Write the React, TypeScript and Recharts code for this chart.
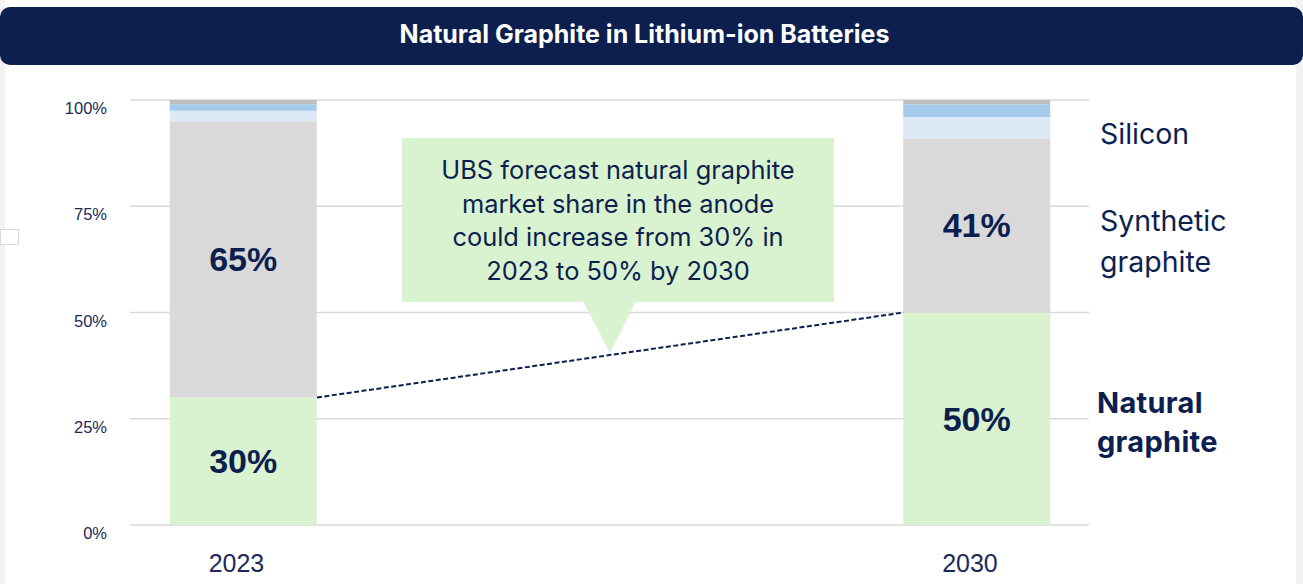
import React from 'react'
import { BarChart, Bar, XAxis, YAxis, CartesianGrid, LabelList, ReferenceLine } from 'recharts'

// values (percent of anode material)
const years = [2023, 2030]
const natural = [30, 50]
const synthetic = [65, 41]
const siliconLight = [2.5, 5]
const siliconBlue = [1.5, 3]
const other = [1, 1]
const yTicks = [0, 25, 50, 75, 100]

const NAVY = '#0C1F4F'
const TEXT = '#1B2A5A'
const W = 1303
const H = 584
const MARGIN = { top: 100, right: 214, bottom: 0, left: 0 }
const Y_AXIS_W = 130
const BAR_SIZE = 147
const X_DOMAIN: [number, number] = [2021.917, 2031.069]

const data = years.map((year, i) => ({
	year,
	natural: natural[i],
	synthetic: synthetic[i],
	siliconLight: siliconLight[i],
	siliconBlue: siliconBlue[i],
	other: other[i],
}))

// half a bar, in axis units, so the dashed line meets the bar corners
const plotW = W - MARGIN.left - MARGIN.right - Y_AXIS_W
const halfBar = (BAR_SIZE / 2) * (X_DOMAIN[1] - X_DOMAIN[0]) / plotW

const YTick = ({ x, y, payload }: any) => (
	<text x={x} y={y} dy={14} textAnchor="end" fill={TEXT} fontSize={16.5} fontFamily="'Liberation Sans', Arial, sans-serif">
		{payload.value}%
	</text>
)

const XTick = ({ x, y, payload }: any) => (
	<text x={x} y={y} dx={-7} dy={47} textAnchor="middle" fill={TEXT} fontSize={25} fontFamily="'Liberation Sans', Arial, sans-serif">
		{payload.value}
	</text>
)

const labelProps = {
	position: 'center' as const,
	fill: NAVY,
	fontSize: 34,
	fontWeight: 700,
	fontFamily: "'Liberation Sans', Arial, sans-serif",
	formatter: (v: any) => `${v}%`,
}

const sideText = { position: 'absolute' as const, fontFamily: 'Inter, sans-serif', color: NAVY }

export default function App() {
	return (
		<div style={{ position: 'absolute', left: 0, top: 0, width: W, height: H, background: '#fff', overflow: 'hidden' }}>
			{/* side strips and the little stray box */}
			<div style={{ position: 'absolute', left: 0, top: 0, width: 5, height: H, background: '#F2F2F2' }} />
			<div style={{ position: 'absolute', left: 1296, top: 0, width: 7, height: H, background: '#F2F2F2' }} />
			<div style={{ position: 'absolute', left: 0, top: 229, width: 17, height: 14, border: '1px solid #D9D9D9', background: '#fff' }} />

			{/* header banner */}
			<div style={{
				position: 'absolute', left: 0, top: 7, width: W, height: 58, background: NAVY, borderRadius: 10,
				color: '#fff', fontFamily: 'Inter, sans-serif', fontWeight: 700, fontSize: 25,
				display: 'flex', alignItems: 'center', justifyContent: 'center',
				paddingRight: 14, paddingBottom: 4, boxSizing: 'border-box',
			}}>
				Natural Graphite in Lithium-ion Batteries
			</div>

			<div style={{ position: 'absolute', left: 0, top: 0 }}>
				<BarChart width={W} height={H} data={data} margin={MARGIN}>
					<CartesianGrid vertical={false} stroke="#D9D9D9" strokeWidth={1.5} />
					<XAxis
						type="number"
						dataKey="year"
						domain={X_DOMAIN}
						ticks={years}
						axisLine={false}
						tickLine={false}
						tickSize={0}
						tickMargin={0}
						height={59}
						tick={<XTick />}
						allowDataOverflow
					/>
					<YAxis
						type="number"
						domain={[0, 100]}
						ticks={yTicks}
						width={Y_AXIS_W}
						axisLine={false}
						tickLine={false}
						tickSize={0}
						tickMargin={23}
						tick={<YTick />}
					/>
					<Bar dataKey="natural" stackId="a" fill="#D9F2D0" barSize={BAR_SIZE} isAnimationActive={false}>
						<LabelList dataKey="natural" {...labelProps} />
					</Bar>
					<Bar dataKey="synthetic" stackId="a" fill="#D9D9D9" barSize={BAR_SIZE} isAnimationActive={false}>
						<LabelList dataKey="synthetic" {...labelProps} />
					</Bar>
					<Bar dataKey="siliconLight" stackId="a" fill="#DCEAF7" barSize={BAR_SIZE} isAnimationActive={false} />
					<Bar dataKey="siliconBlue" stackId="a" fill="#A6CAEC" barSize={BAR_SIZE} isAnimationActive={false} />
					<Bar dataKey="other" stackId="a" fill="#BFBFBF" barSize={BAR_SIZE} isAnimationActive={false} />
					<ReferenceLine
						segment={[
							{ x: years[0] + halfBar, y: natural[0] },
							{ x: years[1] - halfBar, y: natural[1] },
						]}
						stroke={NAVY}
						strokeWidth={2}
						strokeDasharray="5 2.5"
					/>
				</BarChart>
			</div>

			{/* callout */}
			<svg style={{ position: 'absolute', left: 0, top: 0 }} width={W} height={H} pointerEvents="none">
				<rect x={402} y={138} width={432} height={164} fill="#D9F2D0" />
				<polygon points="583,301 636,301 610,353" fill="#D9F2D0" />
			</svg>
			<div style={{
				position: 'absolute', left: 402, top: 153, width: 432, textAlign: 'center',
				fontFamily: 'Inter, sans-serif', fontSize: 25.4, lineHeight: '33.7px', color: NAVY,
			}}>
				UBS forecast natural graphite<br />
				market share in the anode<br />
				could increase from 30% in<br />
				2023 to 50% by 2030
			</div>

			{/* series names on the right */}
			<div style={{ ...sideText, left: 1100, top: 114, fontSize: 28.5, lineHeight: '40px' }}>
				Silicon
			</div>
			<div style={{ ...sideText, left: 1100, top: 200, fontSize: 28.5, lineHeight: '41px' }}>
				Synthetic<br />graphite
			</div>
			<div style={{ ...sideText, left: 1097, top: 383, fontSize: 29, fontWeight: 700, letterSpacing: 0.3, lineHeight: '39px' }}>
				Natural<br />graphite
			</div>
		</div>
	)
}
